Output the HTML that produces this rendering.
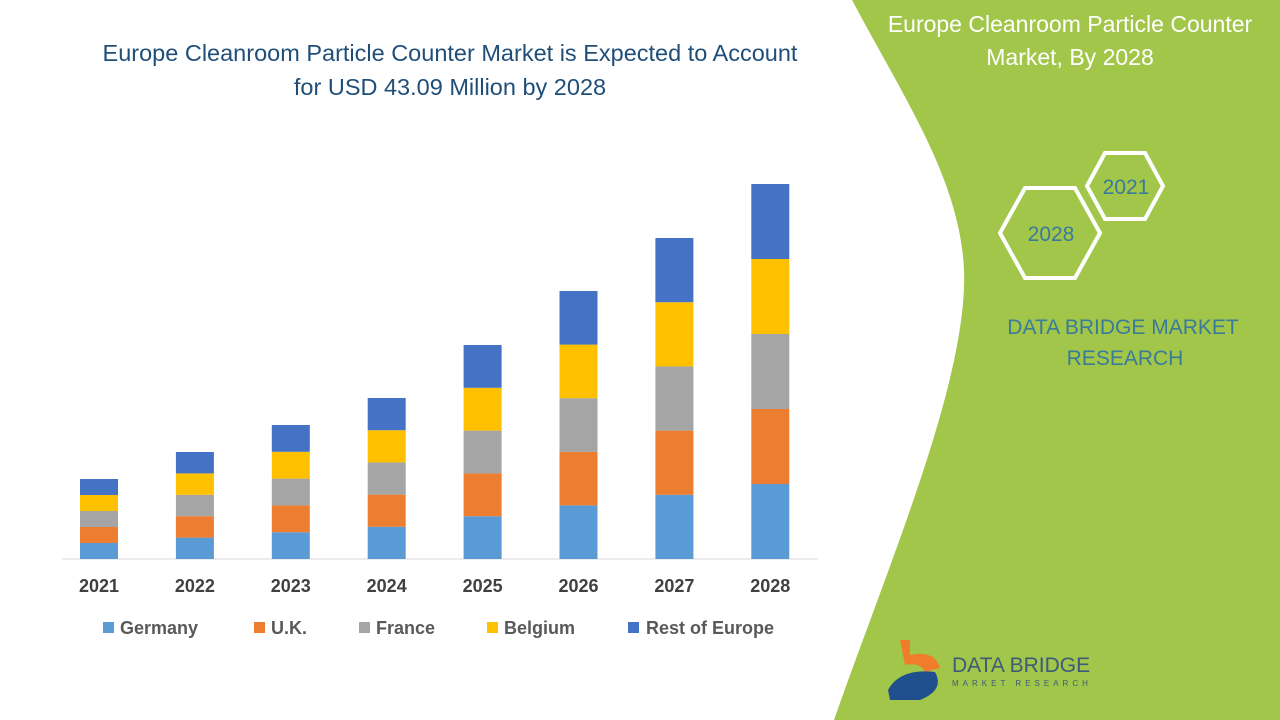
<!DOCTYPE html>
<html><head><meta charset="utf-8"><style>
body{margin:0;width:1280px;height:720px;overflow:hidden;background:#fff;font-family:"Liberation Sans",sans-serif;position:relative}
.t{position:absolute;text-align:center;white-space:nowrap}
</style></head><body>
<svg width="1280" height="720" style="position:absolute;left:0;top:0">
<path d="M852,0 L1280,0 L1280,720 L834,720 C890,560 968,380 964,270 C960,180 905,100 852,0 Z" fill="#a2c64a"/>
<line x1="62" y1="559" x2="818" y2="559" stroke="#d9d9d9" stroke-width="1"/>
<g id="bars"></g>
<polygon points="1000,233 1025,188 1075,188 1100,233 1075,278 1025,278" fill="none" stroke="#fff" stroke-width="4"/>
<polygon points="1087,186 1105,153 1145,153 1163,186 1145,219 1105,219" fill="none" stroke="#fff" stroke-width="4"/>
<text x="1051" y="241" font-size="21" fill="#3a7a9a" text-anchor="middle">2028</text>
<text x="1126" y="194" font-size="21" fill="#3a7a9a" text-anchor="middle">2021</text>
<text x="1123" y="334" font-size="21" fill="#3a7a9a" text-anchor="middle">DATA BRIDGE MARKET</text>
<text x="1125" y="365" font-size="21" fill="#3a7a9a" text-anchor="middle">RESEARCH</text>
<path d="M900,640 L910,640 L910,655 Q935,650 940,668 L925,672 Q920,662 905,665 Z" fill="#f07c2c"/>
<path d="M888,690 Q900,668 935,672 Q945,690 920,700 L890,700 Z" fill="#1f4f8c"/>
<text x="952" y="672" font-size="21" fill="#3d5a7a">DATA BRIDGE</text>
<text x="952" y="686" font-size="8" fill="#3d5a7a" letter-spacing="4">MARKET RESEARCH</text>
</svg>
<div class="t" style="left:50px;top:36px;width:800px;font-size:23.5px;color:#1f4e79;line-height:34px">Europe Cleanroom Particle Counter Market is Expected to Account<br>for USD 43.09 Million by 2028</div>
<div class="t" style="left:860px;top:8px;width:420px;font-size:23px;color:#fff;line-height:33px">Europe Cleanroom Particle Counter<br>Market, By 2028</div>
<div id="ax"></div>
<div style="position:absolute;top:618px;left:0;font-size:18px;font-weight:bold;color:#595959;white-space:nowrap">
<span style="position:absolute;left:103px;top:4px;width:11px;height:11px;background:#5b9bd5"></span><span style="position:absolute;left:120px">Germany</span>
<span style="position:absolute;left:254px;top:4px;width:11px;height:11px;background:#ed7d31"></span><span style="position:absolute;left:271px">U.K.</span>
<span style="position:absolute;left:359px;top:4px;width:11px;height:11px;background:#a5a5a5"></span><span style="position:absolute;left:376px">France</span>
<span style="position:absolute;left:487px;top:4px;width:11px;height:11px;background:#ffc000"></span><span style="position:absolute;left:504px">Belgium</span>
<span style="position:absolute;left:628px;top:4px;width:11px;height:11px;background:#4472c4"></span><span style="position:absolute;left:646px">Rest of Europe</span>
</div>
<script>
var tops=[479,452,425,398,345,291,238,184],cols=["#5b9bd5","#ed7d31","#a5a5a5","#ffc000","#4472c4"];
var g=document.getElementById('bars'),s='',ax='';
for(var i=0;i<8;i++){var x=80+i*95.9,h=(559-tops[i])/5;
for(var k=0;k<5;k++){s+='<rect x="'+x+'" y="'+(559-(k+1)*h)+'" width="38" height="'+h+'" fill="'+cols[k]+'"/>';}
ax+='<div class="t" style="left:'+(x-21)+'px;top:576px;width:80px;font-size:18px;font-weight:bold;color:#404040">'+(2021+i)+'</div>';}
g.innerHTML=s;document.getElementById('ax').innerHTML=ax;
</script>
</body></html>
